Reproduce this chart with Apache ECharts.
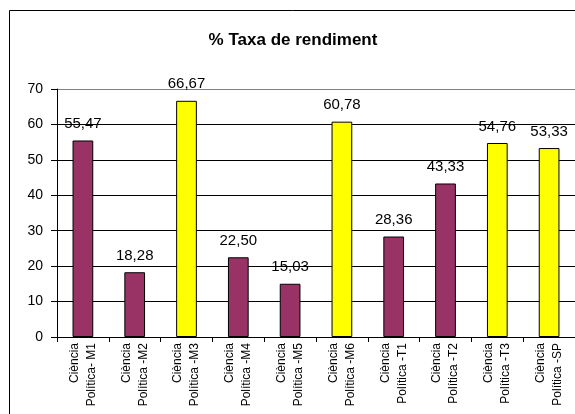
<!DOCTYPE html>
<html>
<head>
<meta charset="utf-8">
<script src="https://cdn.jsdelivr.net/npm/echarts@6/dist/echarts.min.js"></script>
<style>
  html, body { margin: 0; padding: 0; background: #fff; }
  #chart { width: 575px; height: 414px; }
</style>
</head>
<body>
<div id="chart"></div>
<script>
const categories = ['Ciència\nPolítica- M1', 'Ciència\nPolítica -M2', 'Ciència\nPolítica -M3',
  'Ciència\nPolítica -M4', 'Ciència\nPolítica -M5', 'Ciència\nPolítica -M6',
  'Ciència\nPolítica -T1', 'Ciència\nPolítica -T2', 'Ciència\nPolítica -T3', 'Ciència\nPolítica -SP'];
const rates = [55.47, 18.28, 66.67, 22.50, 15.03, 60.78, 28.36, 43.33, 54.76, 53.33];
const groups = ['a', 'a', 'b', 'a', 'a', 'b', 'a', 'a', 'b', 'b'];
const yTicks = [0, 10, 20, 30, 40, 50, 60, 70];

const colorOf = { a: '#993366', b: '#FFFF00' };
const font = 'Liberation Sans, Arial, sans-serif';
// top gridline is the grey plot-area border in the original
const gridColors = yTicks.map((t, i) => i === yTicks.length - 1 ? '#808080' : '#000');

const chart = echarts.init(document.getElementById('chart'));
chart.setOption({
  animation: false,
  title: {
    text: '% Taxa de rendiment',
    left: 288, top: 27, textAlign: 'center',
    textStyle: { fontFamily: font, fontSize: 17, fontWeight: 'bold', color: '#000' }
  },
  graphic: [{
    type: 'rect',
    shape: { x: 9.5, y: 10.5, width: 700, height: 600 },
    style: { fill: 'none', stroke: '#000', lineWidth: 1 },
    silent: true, z: -1
  }],
  grid: { left: 57, right: -2, top: 89, bottom: 77, containLabel: false },
  xAxis: {
    type: 'category',
    data: categories,
    axisLine: { lineStyle: { color: '#000', width: 1 } },
    axisTick: { show: true, alignWithLabel: false, length: 5, lineStyle: { color: '#000' } },
    axisLabel: {
      rotate: 90, interval: 0, margin: 6, color: '#000',
      fontFamily: font, fontSize: 12, lineHeight: 17
    }
  },
  yAxis: {
    type: 'value',
    min: yTicks[0], max: yTicks[yTicks.length - 1], interval: 10,
    axisLine: { show: true, lineStyle: { color: '#000', width: 1 } },
    axisTick: { show: true, length: 6, lineStyle: { color: '#000' } },
    splitLine: { lineStyle: { color: gridColors, width: 1 } },
    axisLabel: { color: '#000', fontFamily: font, fontSize: 14, margin: 14 }
  },
  series: [{
    type: 'bar',
    barWidth: '40%',
    data: rates.map((v, i) => ({
      value: v,
      itemStyle: { color: colorOf[groups[i]], borderColor: '#000', borderWidth: 1 }
    })),
    label: {
      show: true, position: 'top', distance: 9, color: '#000',
      fontFamily: font, fontSize: 15,
      formatter: p => p.value.toFixed(2).replace('.', ',')
    }
  }]
});
</script>
</body>
</html>
